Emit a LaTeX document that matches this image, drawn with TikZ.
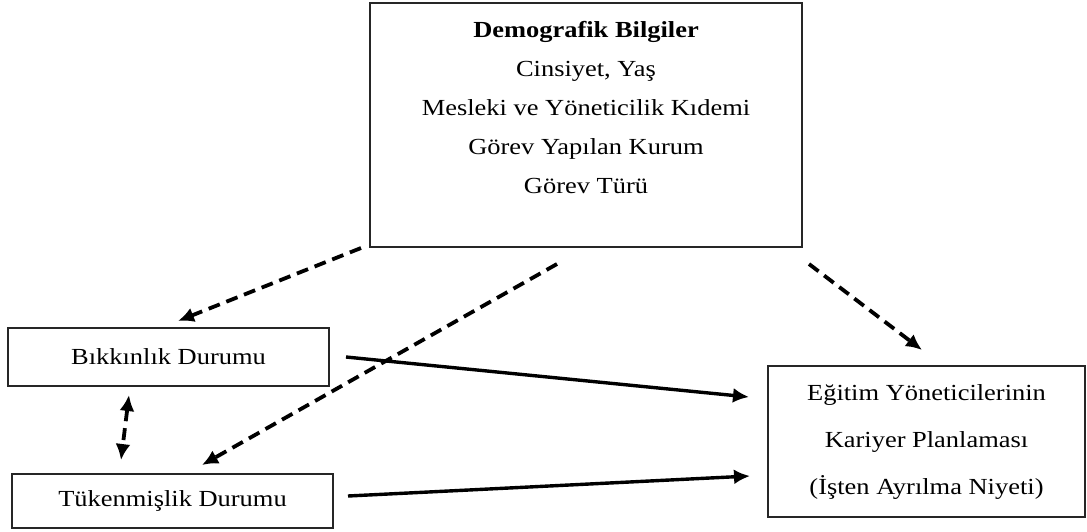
\documentclass[tikz,border=0pt]{standalone}
\usepackage{fontspec}
\setmainfont[FakeStretch=1.15]{Liberation Serif}
\usetikzlibrary{positioning,arrows.meta}
\tikzset{
  boxs/.style={draw=black!85, line width=1pt, align=center, inner sep=0pt,
    font=\fontsize{11.5pt}{14pt}\selectfont},
  txt/.style={align=center, inner sep=0pt},
  sflow/.style={-{Latex[length=8pt,width=7.5pt]}, line width=1.7pt},
  dflow/.style={-{Latex[length=8pt,width=7.5pt]}, line width=1.9pt,
    dash pattern=on 6pt off 3.5pt},
}

\begin{document}
\begin{tikzpicture}[x=0.5pt,y=-0.5pt]
    \useasboundingbox (0,0) rectangle (1087,531);
    % top
    \node[boxs, minimum width=216pt, minimum height=122pt] (demo) at (586,125) {};
    \node[txt, font=\fontsize{11.5pt}{19.5pt}\selectfont] (demotext) at (586,108)
      {\textbf{Demografik Bilgiler}\\Cinsiyet, Yaş\\Mesleki ve Yöneticilik Kıdemi\\Görev Yapılan Kurum\\Görev Türü};
    % left
    \node[boxs, minimum width=160.5pt, minimum height=29pt] (bik) at (168.5,357) {Bıkkınlık Durumu};
    \node[boxs, minimum width=160.5pt, minimum height=27pt] (tuk) at (172.5,501) {Tükenmişlik Durumu};
    % right
    \node[boxs, minimum width=158.5pt, minimum height=75.5pt,
      font=\fontsize{11.5pt}{23.5pt}\selectfont] (egit) at (926.5,441.5)
      {Eğitim Yöneticilerinin\\Kariyer Planlaması\\(İşten Ayrılma Niyeti)};
    % dashed
    \draw[dflow] ([xshift=-4pt]demo.south west) -- ([xshift=4.75pt,yshift=3pt]bik.north);
    \draw[dflow] ([xshift=-14.5pt,yshift=-8pt]demo.south) -- ([xshift=14.75pt,yshift=4pt]tuk.north);
    \draw[dflow] ([xshift=3pt,yshift=-8pt]demo.south east) -- ([xshift=-2.25pt,yshift=7.5pt]egit.north);
    \draw[dflow, {Latex[length=8pt,width=7.5pt]}-{Latex[length=8pt,width=7.5pt]}]
      ([xshift=-19.75pt,yshift=-4pt]bik.south) -- ([xshift=-25.75pt,yshift=6.5pt]tuk.north);
    % solid
    \draw[sflow] ([xshift=8pt]bik.east) -- ([xshift=-9pt,yshift=22.25pt]egit.west);
    \draw[sflow] ([xshift=7pt,yshift=2.5pt]tuk.east) -- ([xshift=-8.5pt,yshift=-17.25pt]egit.west);
\end{tikzpicture}
\end{document}
